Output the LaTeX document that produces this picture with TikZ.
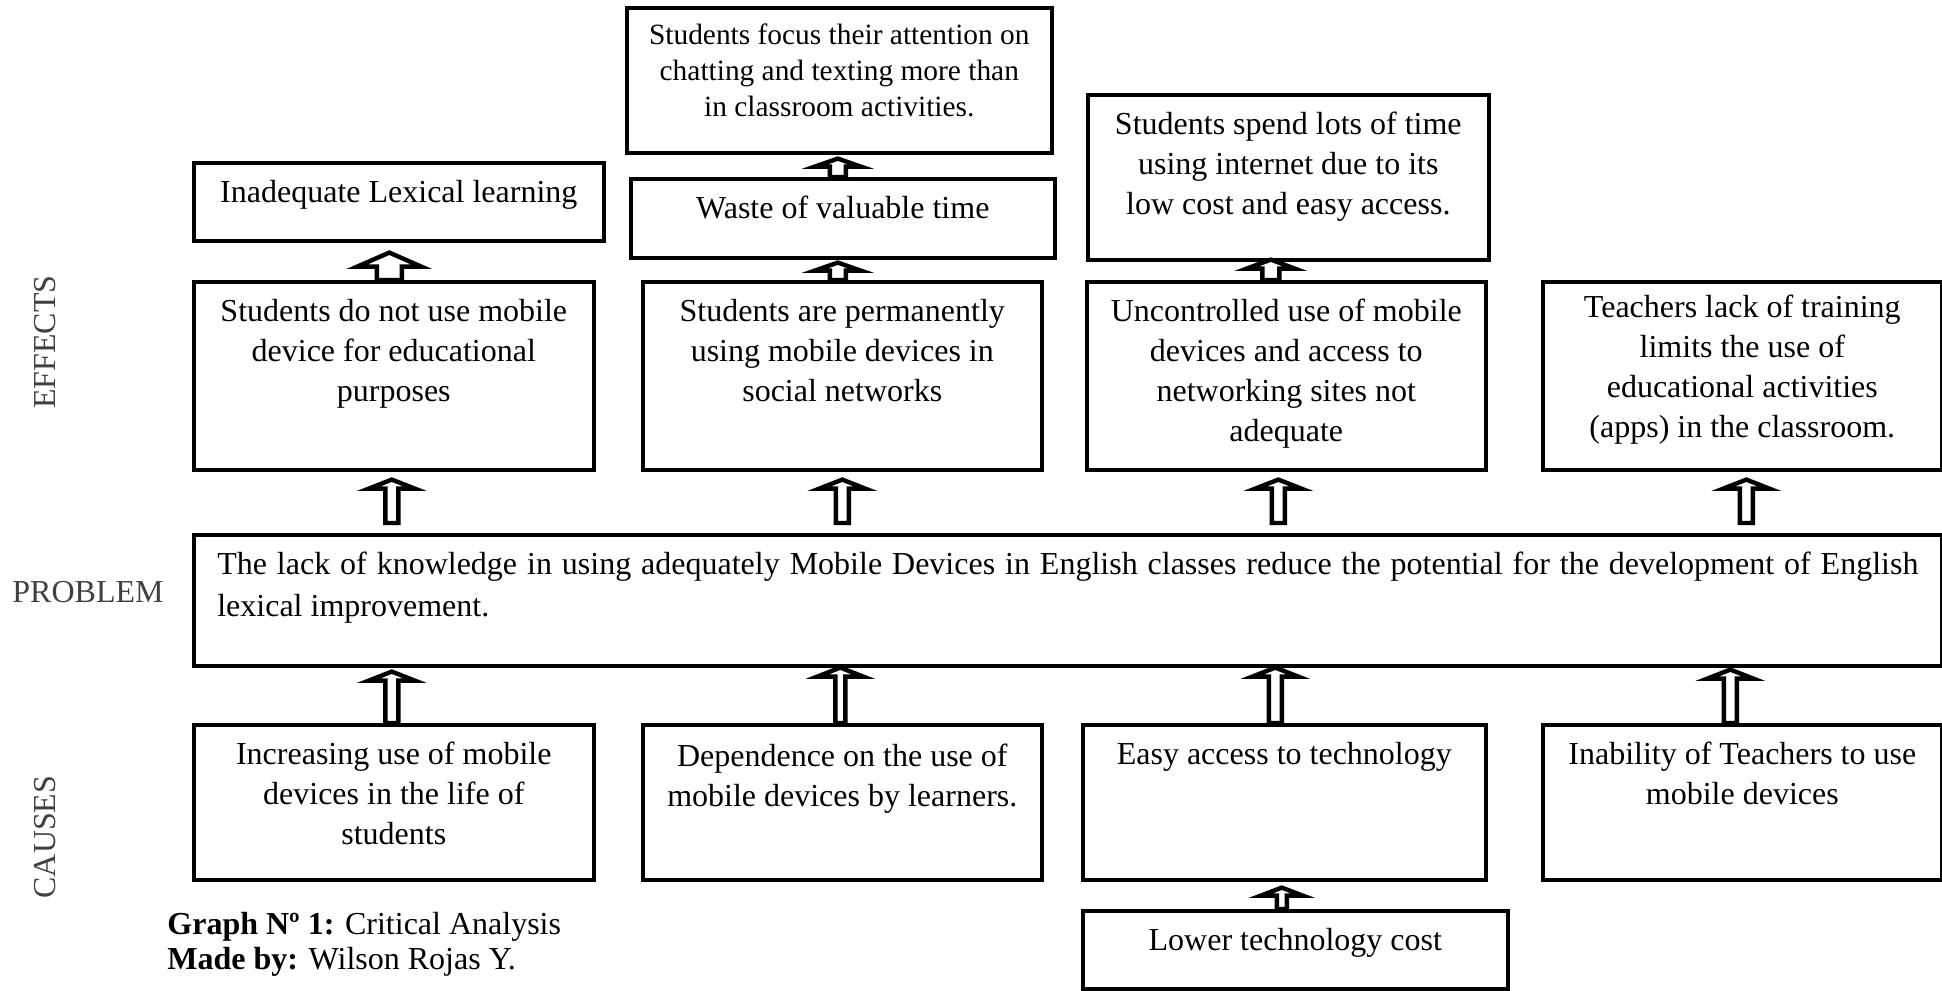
\documentclass[tikz,border=0pt]{standalone}
\usepackage{fontspec}
\setmainfont{Liberation Serif}
\usetikzlibrary{calc}
\tikzset{
  box/.style={draw, line width=1.8pt, inner sep=0pt, anchor=north west},
  barrow/.style={draw, line width=2.2pt, fill=white, line join=miter},
  side/.style={text=black!75, inner sep=0pt},
  capt/.style={anchor=base west, inner sep=0pt},
}
% box: name, x, y, w, h (px), top pad (pt), text
\newcommand\bx[7]{\node[box] (#1) at (#2,#3) {\parbox[c][\dimexpr #5pt/2\relax][t]{\dimexpr #4pt/2\relax}{\centering\vspace*{#6pt}\strut #7\par}};}
% block arrow: lower, upper, ref node (x), xshift, gap bottom, gap top, shaft half, head half, head length (px)
\newcommand\blk[9]{\draw[barrow] let \p1=(#3), \p2=(#1.north), \p3=(#2.south) in
 ({\x1+(#4-#7)*0.5pt},{\y2+#5*0.5pt}) --
 ({\x1+(#4-#7)*0.5pt},{\y3-(#6+#9)*0.5pt}) --
 ({\x1+(#4-#8)*0.5pt},{\y3-(#6+#9)*0.5pt}) --
 ({\x1+#4*0.5pt},{\y3-#6*0.5pt}) --
 ({\x1+(#4+#8)*0.5pt},{\y3-(#6+#9)*0.5pt}) --
 ({\x1+(#4+#7)*0.5pt},{\y3-(#6+#9)*0.5pt}) --
 ({\x1+(#4+#7)*0.5pt},{\y2+#5*0.5pt}) -- cycle;}
\begin{document}
\begin{tikzpicture}[x=0.5pt,y=-0.5pt,font=\fontsize{16}{20}\selectfont]
\useasboundingbox (0,0) rectangle (1942,990);
% top row
\bx{T1}{192}{161}{410}{78}{6}{Inadequate Lexical learning}
\bx{T2}{629}{177}{424}{79}{6}{Waste of valuable time}
\node[box] (T3) at (625,6) {\parbox[c][72.5pt][t]{212.5pt}{\fontsize{14.7}{18}\selectfont\centering\vspace*{6pt}\strut Students focus their attention on\\ chatting and texting more than\\ in classroom activities.\par}};
\bx{T4}{1086}{93}{401}{165}{6}{Students spend lots of time\\ using internet due to its\\ low cost and easy access.}
% effects
\bx{E1}{192}{280}{400}{188}{6}{Students do not use mobile\\ device for educational\\ purposes}
\bx{E2}{641}{280}{399}{188}{6}{Students are permanently\\ using mobile devices in\\ social networks}
\bx{E3}{1085}{280}{399}{188}{6}{Uncontrolled use of mobile\\ devices and access to\\ networking sites not\\ adequate}
\bx{E4}{1541}{280}{399}{188}{4}{Teachers lack of training\\ limits the use of\\ educational activities\\ (apps) in the classroom.}
% problem
\node[box, inner xsep=11.75pt] (P) at (192,533) {\parbox[c][65.5pt][t]{850.5pt}{\setlength\baselineskip{21pt}\vspace*{6pt}\strut The lack of knowledge in using adequately Mobile Devices in English classes reduce the potential for the development of English\linebreak lexical improvement.\par}};
% causes
\bx{C1}{192}{723}{400}{155}{6}{Increasing use of mobile\\ devices in the life of\\ students}
\bx{C2}{641}{723}{399}{155}{7}{Dependence on the use of\\ mobile devices by learners.}
\bx{C3}{1081}{723}{403}{155}{6}{Easy access to technology}
\bx{C4}{1541}{723}{399}{155}{6}{Inability of Teachers to use\\ mobile devices}
\bx{C5}{1081}{909}{425}{78}{6}{Lower technology cost}
% side labels
\node[side, rotate=90] (eff) at (45,342) {EFFECTS};
\node[side] (prob) at (88,592) {PROBLEM};
\node[side, rotate=90] (cau) at (45,837) {CAUSES};
% caption
\node[capt] (cap1) at (167,934) {\textbf{Graph Nº 1:} Critical Analysis};
\node[capt] (cap2) at (167,969) {\textbf{Made by:} Wilson Rojas Y.};
% arrows problem -> effects
\blk{P}{E1}{E1}{-2}{10}{8}{6.5}{23}{9}
\blk{P}{E2}{E2}{0}{10}{8}{6.5}{23}{9}
\blk{P}{E3}{E3}{-8}{10}{8}{6.5}{23}{9}
\blk{P}{E4}{E4}{4}{10}{8}{6.5}{23}{9}
% arrows causes -> problem
\blk{C1}{P}{C1}{-2}{0}{4}{6.5}{23}{9}
\blk{C2}{P}{C2}{-2}{0}{0}{5}{23}{9}
\blk{C3}{P}{C3}{-9}{0}{0}{6.5}{23}{9}
\blk{C4}{P}{C4}{-12}{0}{2}{6.5}{23}{9}
% arrows effects -> top
\blk{E1}{T1}{E1}{-4.5}{0}{10}{12.5}{32}{14}
\blk{E2}{T2}{E2}{-4.5}{0}{3}{8}{23}{8}
\blk{T2}{T3}{T2}{-5}{0}{4}{8}{23}{8}
\blk{E3}{T4}{E3}{-15.5}{0}{-2}{8.5}{24}{9}
\blk{C5}{C3}{C5}{-13.5}{0}{6}{5}{21}{8}
\end{tikzpicture}
\end{document}
